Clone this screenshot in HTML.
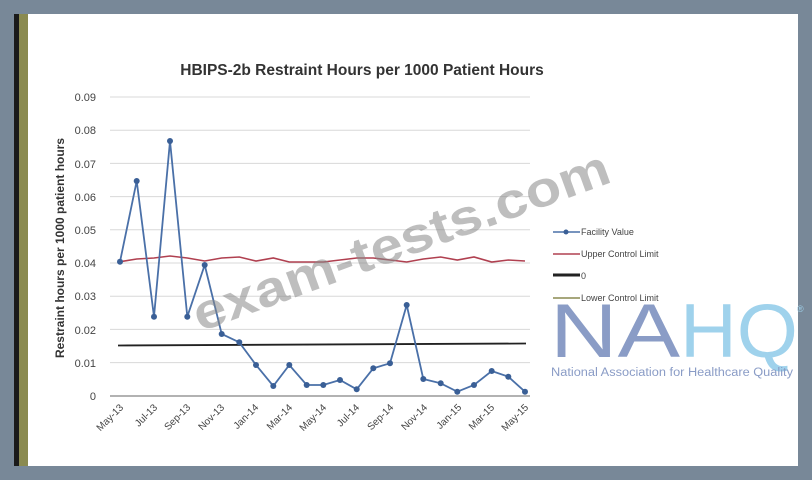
<!DOCTYPE html>
<html><head><meta charset="utf-8"><style>
html,body{margin:0;padding:0;width:812px;height:480px;overflow:hidden;background:#7a8a9a;}
svg{display:block}
</style></head><body>
<svg width="812" height="480" viewBox="0 0 812 480" xmlns="http://www.w3.org/2000/svg" font-family="Liberation Sans, sans-serif">
<rect x="0" y="0" width="812" height="480" fill="#788898"/>
<rect x="14" y="14" width="784" height="452" fill="#ffffff"/>
<rect x="14" y="14" width="5" height="452" fill="#1a1a1a"/>
<rect x="19" y="14" width="9" height="452" fill="#8a8a50"/>
<text x="362" y="75" font-size="15.5" font-weight="bold" fill="#333" text-anchor="middle">HBIPS-2b Restraint Hours per 1000 Patient Hours</text>
<g stroke="#d8d8d8" stroke-width="1">
<line x1="110" y1="97" x2="530" y2="97"/><line x1="110" y1="130.2" x2="530" y2="130.2"/>
<line x1="110" y1="163.4" x2="530" y2="163.4"/><line x1="110" y1="196.6" x2="530" y2="196.6"/>
<line x1="110" y1="229.8" x2="530" y2="229.8"/><line x1="110" y1="263" x2="530" y2="263"/>
<line x1="110" y1="296.2" x2="530" y2="296.2"/><line x1="110" y1="329.4" x2="530" y2="329.4"/>
<line x1="110" y1="362.6" x2="530" y2="362.6"/>
</g>
<line x1="110" y1="396" x2="530" y2="396" stroke="#999" stroke-width="1.5"/>
<g font-size="11" fill="#444" text-anchor="end">
<text x="96" y="101">0.09</text><text x="96" y="134">0.08</text><text x="96" y="168">0.07</text>
<text x="96" y="201">0.06</text><text x="96" y="234">0.05</text><text x="96" y="267">0.04</text>
<text x="96" y="300">0.03</text><text x="96" y="334">0.02</text><text x="96" y="367">0.01</text>
<text x="96" y="400">0</text>
</g>
<text transform="translate(64,248) rotate(-90)" font-size="12" font-weight="bold" fill="#333" text-anchor="middle">Restraint hours per 1000 patient hours</text>
<g font-size="10" fill="#444" text-anchor="end">
<text transform="translate(124,408) rotate(-45)">May-13</text>
<text transform="translate(158,408) rotate(-45)">Jul-13</text>
<text transform="translate(191,408) rotate(-45)">Sep-13</text>
<text transform="translate(225,408) rotate(-45)">Nov-13</text>
<text transform="translate(259,408) rotate(-45)">Jan-14</text>
<text transform="translate(293,408) rotate(-45)">Mar-14</text>
<text transform="translate(327,408) rotate(-45)">May-14</text>
<text transform="translate(360,408) rotate(-45)">Jul-14</text>
<text transform="translate(394,408) rotate(-45)">Sep-14</text>
<text transform="translate(428,408) rotate(-45)">Nov-14</text>
<text transform="translate(462,408) rotate(-45)">Jan-15</text>
<text transform="translate(495,408) rotate(-45)">Mar-15</text>
<text transform="translate(529,408) rotate(-45)">May-15</text>
</g>
<line x1="118" y1="345.5" x2="526" y2="343.5" stroke="#222" stroke-width="1.8"/>
<polyline fill="none" stroke="#b04050" stroke-width="1.6" points="120,261.7 136.7,259 154,258 170,256 187.3,258 204.7,261 221.7,258 239.3,257 256,261 273.3,258 289.3,262 306.7,262 323.3,262 340,260 356.7,258 373.3,258 390,260 406.7,262 423.3,259 440.7,257 457.3,260 474,257 491.7,262 508.3,260 525,261"/>
<polyline fill="none" stroke="#4a70a8" stroke-width="1.8" points="120,261.7 136.7,181 154,316.7 170,141 187.3,316.7 204.7,265 221.7,334 239.3,342.3 256,365 273.3,386 289.3,365 306.7,385 323.3,385 340,380 356.7,389.3 373.3,368.3 390,363.3 406.7,305 423.3,379 440.7,383.3 457.3,391.7 474,385 491.7,371 508.3,376.7 525,391.7"/>
<g fill="#3a5f96">
<circle cx="120" cy="261.7" r="3"/><circle cx="136.7" cy="181" r="3"/><circle cx="154" cy="316.7" r="3"/><circle cx="170" cy="141" r="3"/><circle cx="187.3" cy="316.7" r="3"/><circle cx="204.7" cy="265" r="3"/><circle cx="221.7" cy="334" r="3"/><circle cx="239.3" cy="342.3" r="3"/><circle cx="256" cy="365" r="3"/><circle cx="273.3" cy="386" r="3"/><circle cx="289.3" cy="365" r="3"/><circle cx="306.7" cy="385" r="3"/><circle cx="323.3" cy="385" r="3"/><circle cx="340" cy="380" r="3"/><circle cx="356.7" cy="389.3" r="3"/><circle cx="373.3" cy="368.3" r="3"/><circle cx="390" cy="363.3" r="3"/><circle cx="406.7" cy="305" r="3"/><circle cx="423.3" cy="379" r="3"/><circle cx="440.7" cy="383.3" r="3"/><circle cx="457.3" cy="391.7" r="3"/><circle cx="474" cy="385" r="3"/><circle cx="491.7" cy="371" r="3"/><circle cx="508.3" cy="376.7" r="3"/><circle cx="525" cy="391.7" r="3"/>
</g>
<g font-size="9" fill="#444">
<line x1="553" y1="232" x2="580" y2="232" stroke="#4a70a8" stroke-width="1.5"/><circle cx="566" cy="232" r="2.5" fill="#3a5f96"/>
<text x="581" y="235">Facility Value</text>
<line x1="553" y1="254" x2="580" y2="254" stroke="#b04050" stroke-width="1.5"/>
<text x="581" y="257">Upper Control Limit</text>
<line x1="553" y1="275" x2="580" y2="275" stroke="#222" stroke-width="3"/>
<text x="581" y="279">0</text>
<line x1="553" y1="298" x2="580" y2="298" stroke="#8a8a50" stroke-width="1.5"/>
<text x="581" y="301">Lower Control Limit</text>
</g>
<text x="550" y="357" font-size="76" fill="#8a9cc6" textLength="130" lengthAdjust="spacingAndGlyphs">NA</text>
<text x="680" y="357" font-size="76" fill="#9fd2ec" textLength="118" lengthAdjust="spacingAndGlyphs">HQ</text>
<text x="797" y="312" font-size="9" fill="#9fd2ec">®</text>
<text x="551" y="376" font-size="11.5" fill="#8a9cc6" textLength="242" lengthAdjust="spacingAndGlyphs">National Association for Healthcare Quality</text>
<text transform="translate(200,332) rotate(-20)" font-size="50" font-weight="bold" fill="#888" fill-opacity="0.55" textLength="440" lengthAdjust="spacingAndGlyphs">exam-tests.com</text>
</svg>
</body></html>
